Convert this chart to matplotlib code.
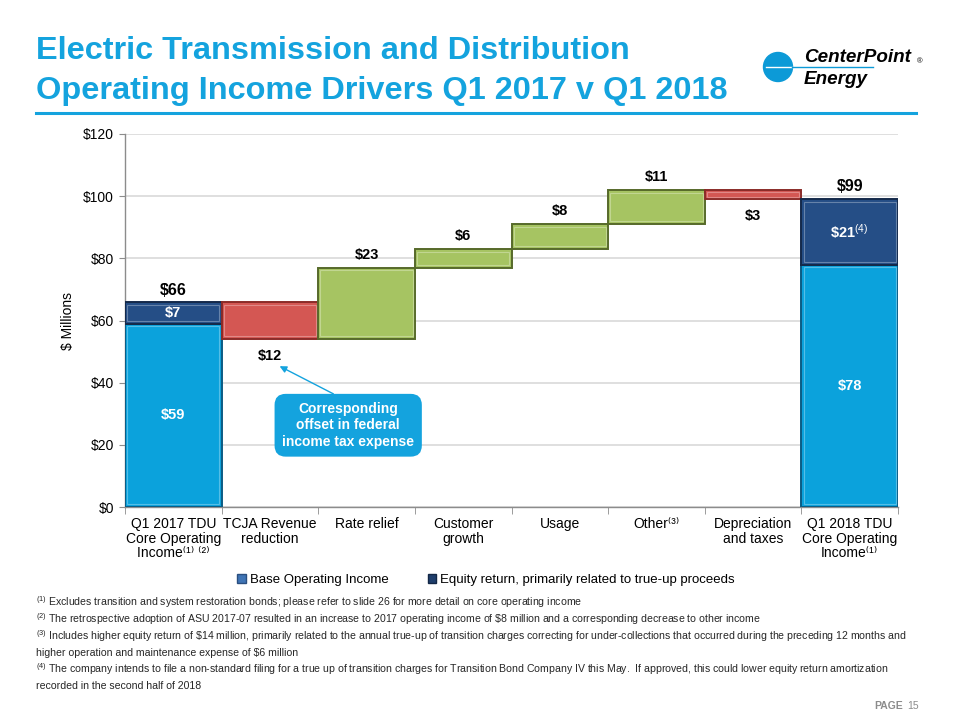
import matplotlib
matplotlib.use("Agg")
import matplotlib.pyplot as plt
from matplotlib.patches import Patch, Circle
import numpy as np

plt.rcParams['font.family'] = ['Liberation Sans', 'DejaVu Sans']
plt.rcParams['mathtext.fontset'] = 'custom'
plt.rcParams['mathtext.rm'] = 'Liberation Sans'
plt.rcParams['mathtext.it'] = 'Liberation Sans:italic'
plt.rcParams['mathtext.bf'] = 'Liberation Sans:bold'

# ---------------- data ----------------
categories = ["Q1 2017 TDU\nCore Operating\nIncome⁽¹⁾ ⁽²⁾",
              "TCJA Revenue\nreduction",
              "Rate relief",
              "Customer\ngrowth",
              "Usage",
              "Other⁽³⁾",
              "Depreciation\nand taxes",
              "Q1 2018 TDU\nCore Operating\nIncome⁽¹⁾"]
start_base = 59
start_equity = 7
changes = [-12, 23, 6, 8, 11, -3]          # drivers between the two totals
end_base = 78
end_equity = 21
yticks = [0, 20, 40, 60, 80, 100, 120]
ytick_labels = ["$0", "$20", "$40", "$60", "$80", "$100", "$120"]
change_labels = ["$12", "$23", "$6", "$8", "$11", "$3"]

# colours
C_BASE, C_BASE_E = "#0BA2DC", "#0B5C84"
C_EQ, C_EQ_E = "#254E86", "#14294A"
C_UP, C_UP_E = "#A6C462", "#56692A"
C_DN, C_DN_E = "#D45753", "#8A2B28"
C_TITLE = "#14A3DE"

fig = plt.figure(figsize=(9.6, 7.2), dpi=100)
ax = fig.add_axes([125/960, 1-507/720, 773/960, 373/720])

x = np.arange(len(categories))
W = 1.0

def lighten(c, f=0.35):
    r = matplotlib.colors.to_rgb(c)
    return tuple(v + (1 - v) * f for v in r)

def bevel_bar(xi, h, b, fc, ec):
    ax.bar(xi, h, bottom=b, width=W, color=fc, edgecolor=ec, linewidth=1.4, zorder=3)
    inset_y = min(0.9, abs(h) * 0.2)
    ax.bar(xi, h - 2*inset_y, bottom=b + inset_y, width=W*0.955, color=fc,
           edgecolor=lighten(fc, 0.3), linewidth=0.8, zorder=4)

# start total
bevel_bar(x[0], start_base, 0, C_BASE, C_BASE_E)
bevel_bar(x[0], start_equity, start_base, C_EQ, C_EQ_E)
start_total = start_base + start_equity

# drivers
level = start_total
tops = []
for i, c in enumerate(changes):
    xi = x[i+1]
    if c >= 0:
        bevel_bar(xi, c, level, C_UP, C_UP_E)
    else:
        bevel_bar(xi, -c, level + c, C_DN, C_DN_E)
    tops.append((level, level + c))
    level += c

# end total
bevel_bar(x[-1], end_base, 0, C_BASE, C_BASE_E)
bevel_bar(x[-1], end_equity, end_base, C_EQ, C_EQ_E)
end_total = end_base + end_equity

# labels
bold = dict(fontweight='bold', ha='center', va='center', zorder=6)
ax.text(x[0], start_total + 3.8, f"${start_total}", fontsize=11.5, color='black', **bold)
ax.text(x[0], start_base + start_equity/2, f"${start_equity}", fontsize=10.5, color='white', **bold)
ax.text(x[0], start_base/2, f"${start_base}", fontsize=10.5, color='white', **bold)
for i, (c, (a, b)) in enumerate(zip(changes, tops)):
    if c >= 0:
        ax.text(x[i+1], b + 4.2, change_labels[i], fontsize=10.5, color='black', **bold)
    else:
        ax.text(x[i+1], b - 5.5, change_labels[i], fontsize=10.5, color='black', **bold)
ax.text(x[-1], end_total + 4.0, f"${end_total}", fontsize=11.5, color='black', **bold)
ax.text(x[-1], end_base + end_equity/2, r"\$%d$^{(4)}$" % end_equity, fontsize=10.5, color='white', **bold)
ax.text(x[-1], end_base/2, f"${end_base}", fontsize=10.5, color='white', **bold)

# axes styling
ax.set_xlim(-0.5, len(categories) - 0.5)
ax.set_ylim(0, 120)
ax.set_yticks(yticks)
ax.set_yticklabels(ytick_labels, fontsize=10)
ax.yaxis.grid(True, color='#D9D9D9', linewidth=1.2, zorder=0)
ax.set_axisbelow(True)
ax.set_xticks(x)
ax.set_xticklabels(categories, fontsize=10, linespacing=1.08)
ax.set_xticks(np.arange(len(categories)+1) - 0.5, minor=True)
ax.tick_params(axis='x', which='major', length=0, pad=7)
ax.tick_params(axis='x', which='minor', length=5, color='#8C8C8C')
ax.tick_params(axis='y', length=4, color='#8C8C8C', pad=4)
for s in ['top', 'right']:
    ax.spines[s].set_visible(False)
for s in ['left', 'bottom']:
    ax.spines[s].set_color('#8C8C8C')
    ax.spines[s].set_linewidth(1.0)
ax.set_ylabel("$ Millions", fontsize=10, labelpad=6)

# callout
ax.annotate("Corresponding\noffset in federal\nincome tax expense",
            xy=(1.1, 45.3), xytext=(1.81, 26.3), textcoords='data',
            fontsize=10, fontweight='bold', color='white', ha='center', va='center',
            linespacing=1.25, zorder=7,
            bbox=dict(boxstyle='round,pad=0.55,rounding_size=0.8', fc=C_TITLE, ec='none'),
            arrowprops=dict(arrowstyle='-|>', color=C_TITLE, lw=1.0, mutation_scale=10,
                            relpos=(0.5, 1.0), shrinkA=0, shrinkB=0))

# legend
handles = [Patch(facecolor='#3F74B5', edgecolor='#2A4F80', label='Base Operating Income'),
           Patch(facecolor='#1F3E6C', edgecolor='#132746', label='Equity return, primarily related to true-up proceeds')]
fig.legend(handles=handles, loc='center', bbox_to_anchor=(486/960, 1-580/720), ncol=2,
           frameon=False, fontsize=9.5, handlelength=0.65, handleheight=0.65,
           handletextpad=0.3, columnspacing=3.0)

# title
fig.text(36/960, 1-51/720, "Electric Transmission and Distribution", fontsize=23.4,
         fontweight='bold', color=C_TITLE, va='center', ha='left')
fig.text(36/960, 1-91/720, "Operating Income Drivers Q1 2017 v Q1 2018", fontsize=23.4,
         fontweight='bold', color=C_TITLE, va='center', ha='left')
fig.add_artist(plt.Line2D([36/960, 916/960], [1-113/720, 1-113/720], color=C_TITLE, lw=2.2))

# logo
lax = fig.add_axes([740/960, 1-110/720, 200/960, 90/720])
lax.set_xlim(740, 940)
lax.set_ylim(110, 20)
lax.set_aspect('equal')
lax.axis('off')
lax.add_patch(Circle((778, 67), 14.5, color='#0C9AD7'))
lax.plot([766, 792], [67, 67], color='white', lw=1.0)
lax.plot([792, 873], [67, 67], color='#0C9AD7', lw=1.0)
lax.text(804, 57, "CenterPoint", fontsize=13.6, fontweight='bold', style='italic',
         color='black', ha='left', va='center')
lax.text(804, 80, "Energy", fontsize=13.6, fontweight='bold', style='italic',
         color='black', ha='left', va='center')
lax.text(920, 62, "®", fontsize=5.5, color='black', ha='center', va='center')

# footnotes
foot = [
    (602, r"$^{(1)}$ Excludes transition and system restoration bonds; please refer to slide 26 for more detail on core operating income"),
    (619, r"$^{(2)}$ The retrospective adoption of ASU 2017-07 resulted in an increase to 2017 operating income of \$8 million and a corresponding decrease to other income"),
    (636, r"$^{(3)}$ Includes higher equity return of \$14 million, primarily related to the annual true-up of transition charges correcting for under-collections that occurred during the preceding 12 months and"),
    (653, r"higher operation and maintenance expense of \$6 million"),
    (669, r"$^{(4)}$ The company intends to file a non-standard filing for a true up of transition charges for Transition Bond Company IV this May.  If approved, this could lower equity return amortization"),
    (686, r"recorded in the second half of 2018"),
]
for yy, t in foot:
    fig.text(36/960, 1-yy/720, t, fontsize=7.6, color='#262626', ha='left', va='center')

fig.text(903/960, 1-706/720, "PAGE", fontsize=7.5, fontweight='bold', color='#8C8C8C',
         ha='right', va='center')
fig.text(907/960, 1-706/720, "15", fontsize=7.5, color='#8C8C8C', ha='left', va='center')

fig.savefig("out.png", dpi=100)
